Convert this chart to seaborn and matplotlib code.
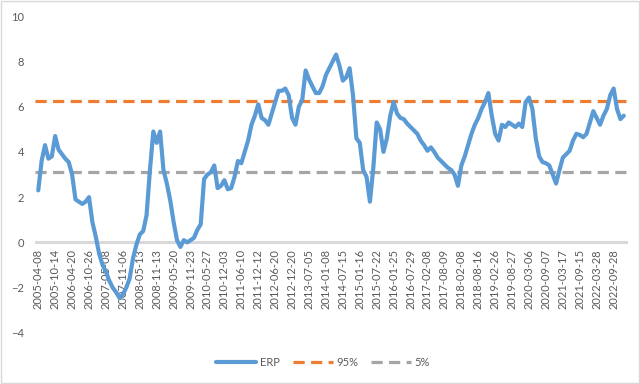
import numpy as np
import pandas as pd
import seaborn as sns
import matplotlib.pyplot as plt
import matplotlib.lines as mlines
import matplotlib.patches as mpatches

# ERP, one reading every 1/5 of a tick-label step
erp = [2.3, 3.6, 4.3, 3.7, 3.8, 4.7, 4.1, 3.9, 3.7, 3.55,
       3.0, 1.9, 1.8, 1.7, 1.8, 2.0, 0.9, 0.25, -0.5, -1.0,
       -1.3, -1.7, -2.0, -2.2, -2.45, -2.3, -2.0, -1.6, -0.7, -0.1,
       0.35, 0.5, 1.2, 3.2, 4.9, 4.4, 4.9, 3.2, 2.6, 1.85,
       0.9, 0.1, -0.2, 0.1, 0.0, 0.1, 0.2, 0.55, 0.8, 2.8,
       3.0, 3.1, 3.4, 2.4, 2.5, 2.75, 2.35, 2.4, 2.9, 3.6,
       3.5, 4.0, 4.5, 5.2, 5.6, 6.1, 5.5, 5.4, 5.2, 5.7,
       6.2, 6.7, 6.7, 6.8, 6.5, 5.5, 5.2, 6.0, 6.3, 7.6,
       7.2, 6.9, 6.6, 6.6, 6.9, 7.4, 7.7, 8.0, 8.3, 7.8,
       7.15, 7.3, 7.7, 6.5, 4.6, 4.4, 3.2, 2.9, 1.8, 3.3,
       5.3, 5.0, 4.0, 4.6, 5.6, 6.2, 5.7, 5.5, 5.45, 5.25,
       5.1, 4.95, 4.8, 4.5, 4.3, 4.05, 4.2, 4.0, 3.75, 3.6,
       3.45, 3.3, 3.2, 3.0, 2.5, 3.4, 3.8, 4.3, 4.8, 5.2,
       5.5, 5.9, 6.2, 6.6, 5.6, 4.8, 4.5, 5.2, 5.1, 5.3,
       5.2, 5.1, 5.25, 5.1, 6.2, 6.4, 5.9, 4.6, 3.8, 3.55,
       3.5, 3.4, 3.0, 2.6, 3.2, 3.75, 3.9, 4.05, 4.5, 4.8,
       4.75, 4.65, 4.8, 5.3, 5.8, 5.5, 5.2, 5.6, 5.9, 6.5,
       6.8, 5.9, 5.45, 5.6]
p95 = 6.24
p5 = 3.1

tick_labels = ["2005-04-08", "2005-10-14", "2006-04-20", "2006-10-26", "2007-05-08",
               "2007-11-06", "2008-05-13", "2008-11-13", "2009-05-20", "2009-11-23",
               "2010-05-27", "2010-12-03", "2011-06-10", "2011-12-12", "2012-06-20",
               "2012-12-20", "2013-07-05", "2014-01-08", "2014-07-15", "2015-01-16",
               "2015-07-22", "2016-01-25", "2016-07-29", "2017-02-08", "2017-08-09",
               "2018-02-08", "2018-08-16", "2019-02-26", "2019-08-27", "2020-03-06",
               "2020-09-07", "2021-03-17", "2021-09-15", "2022-03-28", "2022-09-28"]
step = 5

blue = "#5B9BD5"
orange = "#ED7D31"
grey = "#A5A5A5"
txt = "#595959"

sns.set_style("white")
plt.rcParams["font.family"] = ["Lato", "DejaVu Sans"]

df = pd.DataFrame({"idx": np.arange(len(erp)), "ERP": erp})

fig = plt.figure(figsize=(6.4, 3.84), dpi=100)
ax = fig.add_axes([0.055, 0.133, 0.926, 0.825])

ax.axhline(0, color="#D9D9D9", lw=2.2, zorder=1)
ax.axhline(p95, color=orange, lw=2.3, ls=(0, (3.5, 2)), zorder=2)
ax.axhline(p5, color=grey, lw=2.3, ls=(0, (3.5, 2)), zorder=2)
sns.lineplot(data=df, x="idx", y="ERP", ax=ax, color=blue, lw=3, zorder=3)

for s in ax.spines.values():
    s.set_visible(False)
ax.spines["bottom"].set_position(("data", 0))

ax.set_xlim(-0.9, 174.2)
ax.set_ylim(-4, 10)
ax.set_yticks(range(-4, 11, 2))
ax.set_xticks(range(0, len(tick_labels) * step, step))
ax.set_xticklabels(tick_labels)
ax.set_xlabel("")
ax.set_ylabel("")
ax.tick_params(axis="both", length=0, labelsize=8, colors=txt)
ax.tick_params(axis="x", pad=5, labelrotation=90)
ax.tick_params(axis="y", pad=8)

handles = [mlines.Line2D([], [], color=blue, lw=3),
           mlines.Line2D([], [], color=orange, lw=2.3, ls=(0, (3.5, 2))),
           mlines.Line2D([], [], color=grey, lw=2.3, ls=(0, (3.5, 2)))]
fig.legend(handles, ["ERP", "95%", "5%"], loc="center", bbox_to_anchor=(0.505, 0.057),
           ncol=3, frameon=False, fontsize=8, handlelength=3.6, handletextpad=0.3,
           columnspacing=1.2, labelcolor=txt)

fig.patches.append(mpatches.Rectangle((0.002, 0.002), 0.996, 0.996, transform=fig.transFigure,
                                      fill=False, edgecolor="#D9D9D9", lw=1))

fig.savefig("out.png", dpi=100)
